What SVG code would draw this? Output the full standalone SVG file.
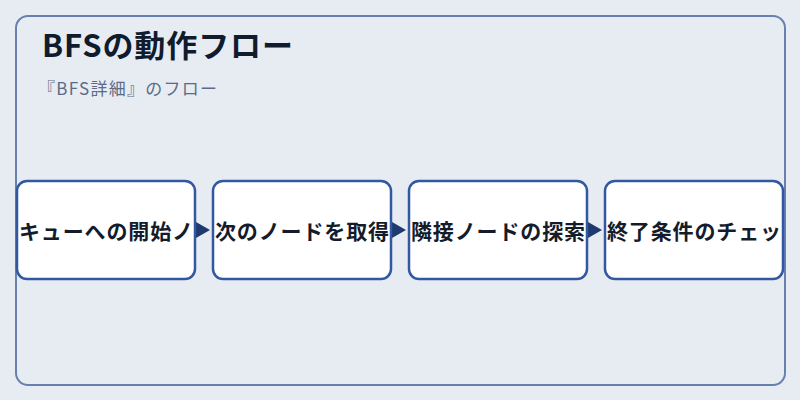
<svg xmlns="http://www.w3.org/2000/svg" width="800" height="400" viewBox="0 0 800 400">
<defs>
<style>
.node rect{fill:#ffffff;stroke:#3358a2;stroke-width:2.5}
.node text{font-family:"Noto Sans CJK JP","Noto Sans",sans-serif;font-weight:700;font-size:21px;fill:#141c2b;text-anchor:middle;dominant-baseline:central}
.conn line{stroke:#1e3a6e;stroke-width:2}
</style>
<marker id="arr" viewBox="0 0 10 10" refX="10" refY="5" markerWidth="14" markerHeight="16" markerUnits="userSpaceOnUse" orient="auto" preserveAspectRatio="none">
<path d="M0,0 L10,5 L0,10 Z" fill="#1e3a6e"/>
</marker>
</defs>
<rect width="800" height="400" fill="#e7ecf2"/>
<rect x="16" y="16" width="769" height="369" rx="12" fill="#e7ecf2" stroke="#6680b0" stroke-width="2"/>
<text x="42" y="57" font-family="'Noto Sans CJK JP','Noto Sans',sans-serif" font-weight="700" font-size="31" fill="#101b2e" textLength="251" lengthAdjust="spacing">BFSの動作フロー</text>
<text x="38" y="95" font-family="'Noto Sans CJK JP','Noto Sans',sans-serif" font-size="17" fill="#5b6b85" textLength="179" lengthAdjust="spacing">『BFS詳細』のフロー</text>
<g class="conn">
<line x1="196" y1="230" x2="210" y2="230" marker-end="url(#arr)" stroke-opacity="0"/>
<line x1="392" y1="230" x2="406" y2="230" marker-end="url(#arr)" stroke-opacity="0"/>
<line x1="588" y1="230" x2="602" y2="230" marker-end="url(#arr)" stroke-opacity="0"/>
</g>
<g id="node1" class="node"><rect x="17" y="181" width="178" height="98" rx="10"/><text x="106" y="230" textLength="174" lengthAdjust="spacing">キューへの開始ノ</text></g>
<g id="node2" class="node"><rect x="213" y="181" width="178" height="98" rx="10"/><text x="302" y="230" textLength="174" lengthAdjust="spacing">次のノードを取得</text></g>
<g id="node3" class="node"><rect x="409" y="181" width="178" height="98" rx="10"/><text x="498" y="230" textLength="174" lengthAdjust="spacing">隣接ノードの探索</text></g>
<g id="node4" class="node"><rect x="605" y="181" width="178" height="98" rx="10"/><text x="694" y="230" textLength="174" lengthAdjust="spacing">終了条件のチェッ</text></g>
</svg>
